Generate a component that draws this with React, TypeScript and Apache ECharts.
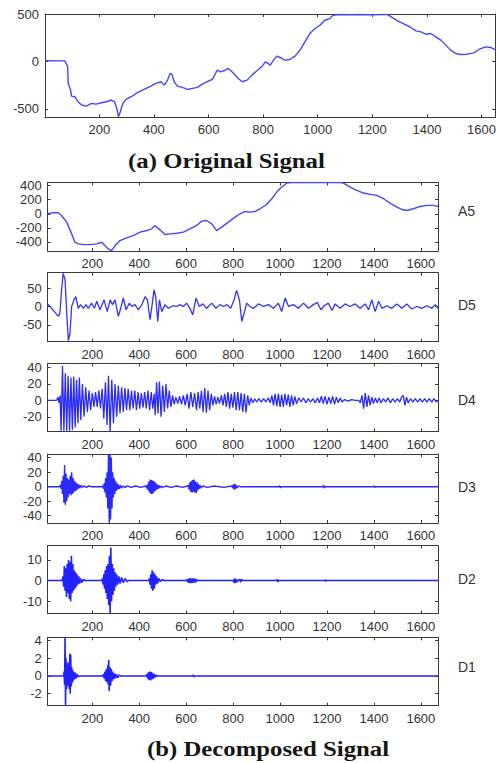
import React, { useEffect, useRef } from "react";
import * as echarts from "echarts";

// ---------- tick values ----------
const xTicks = [200, 400, 600, 800, 1000, 1200, 1400, 1600];
const origYTicks = [-500, 0, 500];
const a5YTicks = [-400, -200, 0, 200, 400];
const d5YTicks = [-50, 0, 50];
const d4YTicks = [-20, 0, 20, 40];
const d3YTicks = [-40, -20, 0, 20, 40];
const d2YTicks = [-10, 0, 10];
const d1YTicks = [-2, 0, 2, 4];

const panelNames = ["A5", "D5", "D4", "D3", "D2", "D1"];

// ---------- series values (sample index, amplitude) ----------
const original: number[][] = [
  [1, 10], [74, 8], [84, -55], [86, -231], [95, -302], [98, -365], [110, -372], [122, -425], [135, -460],
  [153, -471], [171, -443], [189, -450], [207, -436], [226, -425], [244, -407], [256, -425], [264, -496],
  [270, -584], [277, -531], [286, -443], [298, -400], [317, -372], [335, -337], [353, -309], [371, -284],
  [389, -259], [407, -231], [426, -213], [438, -249], [450, -196], [459, -125], [466, -132], [474, -213],
  [486, -259], [504, -273], [523, -295], [541, -284], [559, -273], [577, -238], [595, -213], [614, -189],
  [632, -90], [644, -108], [656, -97], [672, -72], [686, -108], [705, -168], [723, -213], [741, -196],
  [759, -143], [777, -97], [795, -55], [808, -2], [817, -19], [826, -37], [838, 16], [850, 58], [862, 44],
  [880, 16], [898, 23], [917, 58], [935, 122], [953, 210], [971, 298], [990, 351], [1008, 386], [1026, 439],
  [1044, 456], [1056, 492], [1080, 500], [1120, 497], [1160, 500], [1200, 496], [1240, 500], [1256, 498],
  [1269, 474], [1293, 432], [1317, 397], [1341, 362], [1360, 326], [1378, 316], [1396, 291], [1414, 298],
  [1433, 263], [1451, 228], [1469, 175], [1487, 122], [1505, 86], [1523, 76], [1548, 79], [1572, 93],
  [1590, 129], [1615, 157], [1633, 150], [1653, 122],
];

const a5: number[][] = [
  [10, 0], [20, 9], [34, 14], [55, 14], [69, -24], [91, -119], [112, -286], [126, -405], [140, -428],
  [162, -439], [190, -439], [219, -428], [240, -405], [254, -453], [268, -500], [282, -524], [297, -453],
  [318, -381], [346, -343], [375, -310], [403, -262], [432, -239], [453, -215], [467, -167], [488, -229],
  [510, -296], [531, -286], [560, -277], [588, -262], [616, -215], [645, -167], [666, -105], [687, -96],
  [709, -143], [730, -239], [751, -191], [780, -119], [808, -48], [830, 0], [851, 33], [872, 23], [894, 33],
  [915, 71], [943, 132], [965, 214], [986, 309], [1007, 380], [1029, 437], [1050, 445], [1256, 445],
  [1270, 437], [1299, 380], [1327, 333], [1356, 295], [1384, 276], [1412, 261], [1441, 214], [1469, 152],
  [1498, 95], [1519, 61], [1540, 47], [1568, 71], [1597, 104], [1625, 119], [1654, 119], [1673, 104],
];

const d5: number[][] = [
  [10, 6], [27, -5], [41, -16], [55, -27], [62, -18], [69, 45], [76, 90], [84, 73], [91, -18], [98, -93],
  [105, -73], [112, 0], [122, 18], [130, 27], [140, -5], [150, 5], [162, -5], [173, 5], [183, -5], [197, 9],
  [209, -5], [219, 14], [233, -9], [250, 18], [264, -14], [276, 18], [286, 5], [297, 18], [311, -27],
  [321, -5], [332, 23], [344, -9], [358, 9], [368, 0], [382, 5], [396, -9], [411, 5], [425, 27], [435, 18],
  [446, -36], [453, -5], [463, 45], [470, 27], [479, -41], [486, 18], [496, -14], [510, 5], [524, -5],
  [543, 2], [560, 0], [574, 5], [588, 0], [602, 9], [616, -5], [628, -23], [642, 23], [656, 0], [671, 7],
  [687, -5], [709, 9], [727, -5], [744, 5], [759, 0], [773, 5], [790, -5], [804, 18], [815, 44], [827, 18],
  [837, -41], [847, -18], [858, 9], [872, 0], [887, -5], [908, 7], [929, 0], [950, 5], [972, -5], [993, 9],
  [1007, -14], [1022, 23], [1036, 0], [1057, 5], [1078, -5], [1100, 9], [1121, -5], [1142, 5], [1159, 11],
  [1174, -9], [1188, 2], [1206, 9], [1221, -11], [1235, 7], [1256, -5], [1277, 7], [1298, 0], [1320, 7],
  [1341, -5], [1363, 7], [1377, -9], [1391, 18], [1405, -14], [1420, 14], [1434, -5], [1455, 2], [1476, -5],
  [1498, 7], [1519, -5], [1540, 7], [1561, -7], [1583, 0], [1604, -5], [1625, 2], [1647, -5], [1661, 5],
  [1673, -5],
];

const d4: number[][] = [
  [10, 0], [48, 0], [54, 4], [58, -3], [63, 6], [67, -37], [73, 42], [79, -37], [85, 33], [91, -37],
  [97, 30], [103, -37], [109, 28], [115, -36], [121, 29], [127, -33], [133, 25], [139, -28], [145, 28],
  [151, -24], [158, 20], [165, -20], [172, 16], [179, -14], [186, 12], [193, -12], [200, 9], [207, -8],
  [214, 10], [221, -8], [228, 12], [235, -10], [242, 14], [249, -22], [256, 22], [263, -30], [269, 30],
  [276, -38], [283, 25], [290, -28], [297, 20], [304, -20], [311, 18], [318, -16], [325, 16], [332, -14],
  [339, 15], [346, -12], [353, 14], [360, -12], [367, 12], [374, -10], [381, 12], [388, -12], [395, 10],
  [402, -10], [409, 9], [416, -9], [423, 10], [430, -10], [437, 12], [444, -12], [451, 10], [458, -10],
  [464, 8], [468, -18], [474, 22], [480, -16], [486, 23], [493, -20], [500, 18], [507, -14], [514, 20],
  [521, -10], [528, 12], [535, -8], [542, 6], [549, -5], [556, 4], [564, -4], [572, 5], [580, -5],
  [588, 6], [596, -6], [604, 8], [612, -10], [620, 10], [628, -8], [636, 9], [644, -12], [651, 10],
  [658, -10], [665, 12], [672, -14], [679, 15], [686, -15], [693, 12], [700, -12], [707, 8], [714, -6],
  [721, 5], [728, -5], [735, 4], [742, -4], [750, 6], [757, -6], [764, 8], [771, -8], [778, 10], [785, -10],
  [792, 8], [799, -9], [806, 10], [813, -12], [820, 10], [827, -12], [834, 9], [841, -14], [848, 8],
  [855, -15], [862, 6], [869, -6], [876, 3], [884, -3], [892, 2], [900, -2], [910, 2], [920, -2], [930, 2],
  [940, -2], [950, 3], [958, -3], [965, 6], [972, -6], [979, 8], [986, -7], [993, 8], [1000, -8], [1007, 7],
  [1014, -8], [1021, 8], [1028, -6], [1035, 7], [1042, -8], [1049, 6], [1056, -6], [1063, 5], [1070, -4],
  [1080, 3], [1090, -2], [1100, 3], [1110, -3], [1120, 2], [1130, -2], [1140, 2], [1150, -3], [1160, 3],
  [1168, -3], [1176, 5], [1184, -4], [1192, 5], [1200, -5], [1208, 4], [1216, -4], [1224, 5], [1232, -5],
  [1240, 4], [1248, -3], [1256, 3], [1264, -2], [1275, 1], [1290, -1], [1305, 1], [1320, 0], [1335, 0],
  [1342, -3], [1349, 6], [1356, -10], [1363, 9], [1370, -8], [1377, 6], [1384, -6], [1391, 4], [1398, -4],
  [1406, 3], [1414, -3], [1422, 3], [1430, -3], [1440, 2], [1450, -2], [1460, 3], [1470, -3], [1480, 2],
  [1490, -2], [1500, 2], [1510, -2], [1518, 4], [1525, 6], [1532, -6], [1539, 4], [1546, -3], [1556, 2],
  [1566, -2], [1576, 2], [1586, -2], [1596, 2], [1606, -2], [1616, 2], [1626, -2], [1636, 2], [1646, -2],
  [1656, 2], [1666, -2], [1673, 0],
];

const d3: number[][] = [
  [10, 0], [60, 0], [64, 2], [67, -3], [70, 8], [73, -10], [76, 15], [79, -22], [82, 30], [85, -25],
  [88, 18], [91, -20], [94, 12], [97, -15], [100, 10], [103, -10], [106, 15], [109, -12], [112, 20],
  [115, -10], [118, 12], [121, -8], [124, 8], [127, -6], [130, 6], [133, -5], [136, 4], [139, -3], [143, 3],
  [147, -2], [152, 2], [158, -1], [165, 1], [175, -1], [185, 1], [195, 0], [240, 0], [245, 1], [248, -3],
  [251, 5], [254, -8], [257, 12], [260, -15], [263, 20], [266, -30], [269, 45], [272, -50], [275, 45],
  [278, -45], [281, 40], [284, -30], [287, 20], [290, -15], [293, 12], [296, -10], [299, 8], [302, -6],
  [305, 5], [308, -4], [311, 3], [315, -3], [320, 2], [325, -2], [332, 1], [340, -1], [350, 1], [365, -1],
  [385, 1], [405, -1], [428, 1], [432, -2], [435, 3], [438, -5], [441, 7], [444, -8], [447, 10], [450, -10],
  [453, 9], [456, -10], [459, 8], [462, -8], [465, 7], [468, -6], [471, 5], [474, -4], [477, 3], [480, -3],
  [484, 2], [488, -2], [493, 1], [500, -1], [515, 1], [535, -1], [560, 1], [585, -1], [605, 1], [610, 2],
  [613, -4], [616, 6], [619, -7], [622, 8], [625, -8], [628, 9], [631, -7], [634, 10], [637, -8], [640, 7],
  [643, -9], [646, 6], [649, -5], [652, 4], [655, -3], [659, 2], [664, -2], [670, 1], [690, -1], [720, 1],
  [760, -1], [795, 1], [798, -2], [801, 3], [804, -4], [807, 4], [810, -3], [813, 2], [817, -2], [822, 1],
  [830, 0], [995, 0], [998, 1.5], [1001, -1.5], [1004, 0], [1183, 0], [1186, 2], [1189, -2], [1192, 0],
  [1398, 0], [1401, 1.2], [1404, -1.2], [1407, 0], [1673, 0],
];

const d2: number[][] = [
  [10, 0], [72, 0], [75, 2], [78, -3], [81, 7], [84, -5], [87, 6], [90, -8], [93, 8], [96, -6], [99, 10],
  [102, -9], [105, 9], [108, -10], [111, 12], [114, -6], [117, 8], [120, -5], [123, 5], [126, -4], [129, 4],
  [132, -3], [135, 3], [138, -2], [142, 2], [146, -1.5], [150, 1], [155, -1], [162, 0.5], [170, 0],
  [240, 0], [243, 1], [246, -2], [249, 3], [252, -4], [255, 5], [258, -6], [261, 7], [264, -9], [267, 8],
  [270, -12], [273, 12], [276, -16], [279, 16], [282, -10], [285, 8], [288, -7], [291, 6], [294, -5],
  [297, 4], [300, -3], [304, 3], [308, -2], [313, 2], [318, -1.5], [325, 1.5], [332, -1], [340, 1],
  [348, -0.5], [355, 0], [440, 0], [443, 1], [446, -2], [449, 3], [452, -4], [455, 5], [458, -5], [461, 4],
  [464, -4], [467, 3], [470, -2], [474, 2], [478, -1.5], [483, 1], [490, -0.5], [498, 0.5], [505, 0],
  [600, 0], [604, 0.5], [608, -1], [612, 1], [616, -1.2], [620, 1], [624, -1.2], [628, 1], [632, -1],
  [636, 1], [640, -1], [645, 0.5], [650, 0], [800, 0], [803, -1], [806, 1], [809, -1.2], [812, 0.8],
  [816, -0.8], [820, 0], [828, 0.6], [832, -0.8], [836, 0.6], [840, 0], [985, 0], [988, 0.6], [991, -0.6],
  [994, 0], [1190, 0], [1193, 0.4], [1196, -0.4], [1199, 0], [1673, 0],
];

const d1: number[][] = [
  [10, 0], [78, 0], [80, 0.5], [82, -1], [84, 4.3], [86, -3.3], [88, 2], [90, -1.5], [92, 1.2], [94, -1],
  [96, 1.5], [98, -1.2], [100, 1], [102, -1.5], [104, 2.5], [106, -2], [108, 2.4], [110, -1.2], [112, 1],
  [114, -0.8], [116, 0.7], [118, -0.6], [120, 0.5], [123, -0.4], [126, 0.4], [130, -0.3], [135, 0.2],
  [140, -0.1], [145, 0], [245, 0], [248, 0.2], [251, -0.3], [254, 0.5], [257, -0.6], [260, 0.8],
  [263, -0.7], [266, 1.2], [268, -1.0], [270, 1.8], [272, -1.7], [275, 1], [278, -1.1], [281, 0.8],
  [284, -0.6], [287, 0.5], [290, -0.4], [294, 0.3], [298, -0.3], [303, 0.2], [308, -0.2], [315, 0.1],
  [320, 0], [430, 0], [433, 0.2], [436, -0.3], [439, 0.4], [442, -0.45], [445, 0.5], [448, -0.5],
  [451, 0.45], [454, -0.4], [457, 0.35], [460, -0.3], [464, 0.2], [468, -0.15], [473, 0.1], [478, 0],
  [625, 0], [629, 0.1], [633, -0.1], [637, 0], [1673, 0],
];

// ---------- layout ----------
const AXIS_COLOR = "#3a3a3a";
const LABEL_COLOR = "#333";
const SANS = "Liberation Sans, Arial, Helvetica, sans-serif";
const SERIF = "Liberation Serif, Times New Roman, Times, serif";

type Panel = {
  data: number[][];
  yTicks: number[];
  xMin: number; xMax: number; yMin: number; yMax: number;
  left: number; top: number; width: number; height: number;
  color: string; lw: number;
};

const panels: Panel[] = [
  { data: original, yTicks: origYTicks, xMin: 1, xMax: 1650, yMin: -590, yMax: 505, left: 45, top: 14, width: 453.5, height: 103.3, color: "#4646ff", lw: 1.4 },
  { data: a5, yTicks: a5YTicks, xMin: 10, xMax: 1673, yMin: -530, yMax: 445, left: 47.7, top: 182.5, width: 390.3, height: 68.5, color: "#4646ff", lw: 1.4 },
  { data: d5, yTicks: d5YTicks, xMin: 10, xMax: 1673, yMin: -96, yMax: 92, left: 47.7, top: 272.7, width: 390.3, height: 69, color: "#3333ff", lw: 1.3 },
  { data: d4, yTicks: d4YTicks, xMin: 10, xMax: 1673, yMin: -38, yMax: 45, left: 47.7, top: 363.5, width: 390.3, height: 68, color: "#2a2aff", lw: 1.3 },
  { data: d3, yTicks: d3YTicks, xMin: 10, xMax: 1673, yMin: -50, yMax: 45, left: 47.7, top: 454, width: 390.3, height: 69, color: "#2a2aff", lw: 1.4 },
  { data: d2, yTicks: d2YTicks, xMin: 10, xMax: 1673, yMin: -16, yMax: 17, left: 47.7, top: 545.5, width: 390.3, height: 68, color: "#2222ff", lw: 1.6 },
  { data: d1, yTicks: d1YTicks, xMin: 10, xMax: 1673, yMin: -3.35, yMax: 4.35, left: 47.7, top: 637.3, width: 390.3, height: 68.4, color: "#2222ff", lw: 1.6 },
];

const nameLabelY = [211, 305, 400, 487, 579, 667];

function buildOption() {
  const grid: any[] = [];
  const xAxis: any[] = [];
  const yAxis: any[] = [];
  const series: any[] = [];
  const lineStyle = { color: AXIS_COLOR, width: 1 };
  const label = { fontFamily: SANS, fontSize: 13, color: LABEL_COLOR, formatter: (v: number) => String(v) };

  panels.forEach((p, i) => {
    grid.push({ left: p.left, top: p.top, width: p.width, height: p.height, containLabel: false });
    const xBase = {
      type: "value", gridIndex: i, min: p.xMin, max: p.xMax,
      axisLine: { show: true, onZero: false, lineStyle },
      splitLine: { show: false },
    };
    xAxis.push({
      ...xBase, position: "bottom",
      axisTick: { show: true, inside: true, length: 3, customValues: xTicks, lineStyle },
      axisLabel: { show: true, customValues: xTicks, margin: 6, ...label },
    });
    xAxis.push({
      ...xBase, position: "top",
      axisTick: { show: true, inside: true, length: 3, customValues: xTicks, lineStyle },
      axisLabel: { show: false, customValues: xTicks },
    });
    const yBase = {
      type: "value", gridIndex: i, min: p.yMin, max: p.yMax,
      axisLine: { show: true, onZero: false, lineStyle },
      splitLine: { show: false },
    };
    yAxis.push({
      ...yBase, position: "left",
      axisTick: { show: true, inside: true, length: 3, customValues: p.yTicks, lineStyle },
      axisLabel: { show: true, customValues: p.yTicks, margin: 6, ...label },
    });
    yAxis.push({
      ...yBase, position: "right",
      axisTick: { show: true, inside: true, length: 3, customValues: p.yTicks, lineStyle },
      axisLabel: { show: false, customValues: p.yTicks },
    });
    series.push({
      type: "line",
      xAxisIndex: 2 * i,
      yAxisIndex: 2 * i,
      data: p.data,
      showSymbol: false,
      symbol: "none",
      clip: true,
      lineStyle: { color: p.color, width: p.lw },
      silent: true,
    });
  });

  const graphic: any[] = [
    {
      type: "text", x: 226.5, y: 161, scaleX: 1.18,
      style: {
        text: "(a) Original Signal", fontFamily: SERIF, fontSize: 21, fontWeight: "bold",
        fill: "#151515", textAlign: "center", textVerticalAlign: "middle", align: "center", verticalAlign: "middle",
      },
    },
    {
      type: "text", x: 268, y: 749, scaleX: 1.18,
      style: {
        text: "(b) Decomposed Signal", fontFamily: SERIF, fontSize: 21, fontWeight: "bold",
        fill: "#151515", textAlign: "center", textVerticalAlign: "middle", align: "center", verticalAlign: "middle",
      },
    },
  ];
  panelNames.forEach((n, i) => {
    graphic.push({
      type: "text", x: 458, y: nameLabelY[i],
      style: {
        text: n, fontFamily: SANS, fontSize: 14, fill: LABEL_COLOR,
        textAlign: "left", textVerticalAlign: "middle", align: "left", verticalAlign: "middle",
      },
    });
  });

  return {
    animation: false,
    backgroundColor: "#ffffff",
    grid, xAxis, yAxis, series, graphic,
  };
}

export default function App() {
  const ref = useRef<HTMLDivElement>(null);
  useEffect(() => {
    if (!ref.current) return;
    const chart = echarts.init(ref.current, undefined, { renderer: "svg" });
    chart.setOption(buildOption() as any);
    return () => chart.dispose();
  }, []);
  return (
    <div
      ref={ref}
      style={{ position: "absolute", left: 0, top: 0, width: 499, height: 763, background: "#fff" }}
    />
  );
}
